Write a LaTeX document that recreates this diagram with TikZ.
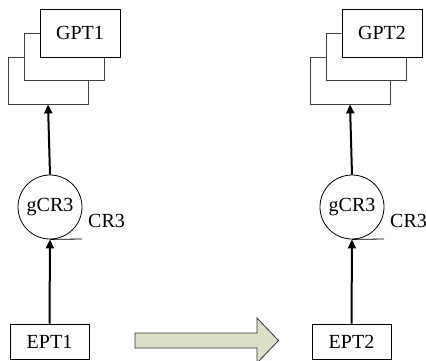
\documentclass[tikz,border=0pt]{standalone}
\usepackage{fontspec}
\setmainfont{Liberation Serif}
\usetikzlibrary{arrows.meta}
\definecolor{blockfill}{RGB}{218,223,200}
\tikzset{
  page/.style={draw, fill=white, line width=0.8pt, draw=black!75, inner sep=0pt},
  labelbox/.style={draw, fill=white, line width=0.8pt, inner sep=0pt, minimum width=79pt, minimum height=35pt},
  ring/.style={draw, circle, line width=0.8pt, minimum size=64pt, inner sep=0pt},
  link/.style={line width=2pt, -{Triangle[length=9pt,width=8pt]}},
  txt/.style={font=\fontsize{20}{23}\selectfont}
}
\begin{document}
\begin{tikzpicture}[x=1pt, y=-1pt]
\useasboundingbox (0,0) rectangle (426,360);

% two identical columns, shifted by 302pt
\foreach \k/\dx in {1/0, 2/302} {
  \begin{scope}[xshift=\dx]
    % stacked pages
    \node[page, minimum width=80pt, minimum height=47pt] (back\k) at (48,80.5) {};
    \node[page, minimum width=80pt, minimum height=47pt] (mid\k) at (64,56.5) {};
    \node[page, txt, draw=black, minimum width=80pt, minimum height=48pt] (gpt\k) at (80,33) {GPT\k};
    % circle with CR3 label
    \node[ring, txt] (gcr\k) at (50,207) {gCR3};
    \node[txt, anchor=west, inner sep=0pt] (cr\k) at (88,221) {CR3};
    \coordinate (ul\k) at (82,239);
    \draw[line width=0.8pt] (gcr\k.south) -- (ul\k);
    % bottom box
    \node[labelbox, txt] (ept\k) at (49.5,341.5) {EPT\k};
    % connectors
    \draw[link] (ept\k.north) -- (gcr\k.south);
    \draw[link] (gcr\k.north) -- (back\k.south);
  \end{scope}
}

% block arrow between the columns
\coordinate (s1) at (135,333);
\coordinate (s2) at (257,333);
\coordinate (h1) at (257,318);
\coordinate (tip) at (278.5,340.5);
\coordinate (h2) at (257,363);
\coordinate (s3) at (257,348);
\coordinate (s4) at (135,348);
\draw[fill=blockfill, draw=black!80, line width=0.8pt]
  (s1) -- (s2) -- (h1) -- (tip) -- (h2) -- (s3) -- (s4) -- cycle;
\end{tikzpicture}
\end{document}
